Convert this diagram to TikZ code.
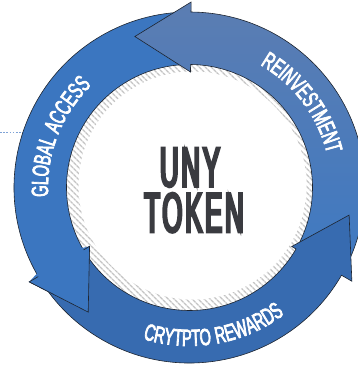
\documentclass[tikz,border=0pt]{standalone}
\usepackage{fontspec}
\usetikzlibrary{decorations.text,patterns.meta}
\newfontfamily\ringfont[FakeStretch=0.62,FakeBold=3,LetterSpace=4]{Liberation Sans}
\newfontfamily\centerfont[FakeStretch=0.46,FakeBold=4.5,LetterSpace=5]{Liberation Sans}
\definecolor{globalblue}{HTML}{3B76C0}
\definecolor{cryptoblue}{HTML}{376BB0}
\definecolor{reinvtop}{HTML}{5B7DB2}
\definecolor{reinvmid}{HTML}{557FB9}
\definecolor{reinvbot}{HTML}{3E79C2}
\definecolor{edgecol}{HTML}{1E2530}
\definecolor{unygray}{HTML}{3A3B40}
\definecolor{dotblue}{HTML}{7FA3D6}
\definecolor{hatchgray}{HTML}{C4C4C4}
\tikzset{
  edge/.style={draw=edgecol, line width=0.6pt, line join=miter},
  ringtext/.style={decorate, decoration={text along path, text align=center, text color=white}},
  centertext/.style={anchor=base, inner sep=0pt, text=unygray, font={\centerfont\fontsize{56pt}{56pt}\selectfont}}
}
\begin{document}
\begin{tikzpicture}[x=1pt,y=1pt]
\useasboundingbox (-189.5,-181.5) rectangle (168.5,187.5);
% dotted lead line
\coordinate (dotstart) at (-189.5,54.5);
\coordinate (dotend) at (-166,54.5);
\draw[dotblue, line width=1pt, dash pattern=on 1.6pt off 1.6pt] (dotstart) -- (dotend);
% hatched inner disc
\fill[pattern={Lines[angle=-45,distance=4pt,line width=1.5pt]}, pattern color=hatchgray] (0,0) circle[radius=124pt];
\fill[white] (3,2) circle[radius=114pt];
% global access arrow
\path[edge, fill=globalblue] (91:123pt) arc[start angle=91, end angle=210.5, radius=123pt]
  -- (210.5:116pt) -- (230.9:160.6pt) -- (210.5:186pt) -- (210.5:175.5pt)
  arc[start angle=210.5, end angle=91, radius=175.5pt] -- cycle;
% reinvestment arrow
\path[edge, top color=reinvtop, middle color=reinvmid, bottom color=reinvbot] (-29.5:123pt) arc[start angle=-29.5, end angle=89.5, radius=123pt]
  -- (89.5:115.5pt) -- (109.9:160.6pt) -- (89.5:185.5pt) -- (89.5:175.5pt)
  arc[start angle=89.5, end angle=-29.5, radius=175.5pt] -- cycle;
% crypto rewards arrow
\path[edge, fill=cryptoblue] (211.5:123pt) arc[start angle=211.5, end angle=330, radius=123pt]
  -- (330:118pt) -- (350.2:162pt) -- (330:187.5pt) -- (330:175.5pt)
  arc[start angle=330, end angle=211.5, radius=175.5pt] -- cycle;
% global access head on top of crypto tail
\fill[globalblue] (210.5:116pt) -- (230.9:160.6pt) -- (210.5:186pt) -- (209.3:174pt) -- (209.3:124pt) -- cycle;
\draw[edge] (210.5:123pt) -- (210.5:116pt) -- (230.9:160.6pt) -- (210.5:186pt) -- (210.5:175.5pt);
% ring labels
\path[ringtext, decoration={text={|\ringfont\fontsize{23.5pt}{23.5pt}\selectfont|REINVESTMENT}}]
  (86.9:141.5pt) arc[start angle=86.9, end angle=-13.1, radius=141.5pt];
\path[ringtext, decoration={text={|\ringfont\fontsize{23.5pt}{23.5pt}\selectfont|GLOBAL ACCESS}}]
  (208.75:141.5pt) arc[start angle=208.75, end angle=108.75, radius=141.5pt];
\path[ringtext, decoration={text={|\ringfont\fontsize{23.5pt}{23.5pt}\selectfont|CRYTPTO REWARDS}}]
  (229.85:158.5pt) arc[start angle=229.85, end angle=329.85, radius=158.5pt];
% centre text
\node[centertext] (uny) at (0.5,1) {UNY};
\node[centertext] (token) at (4.5,-44.5) {TOKEN};
\end{tikzpicture}
\end{document}
